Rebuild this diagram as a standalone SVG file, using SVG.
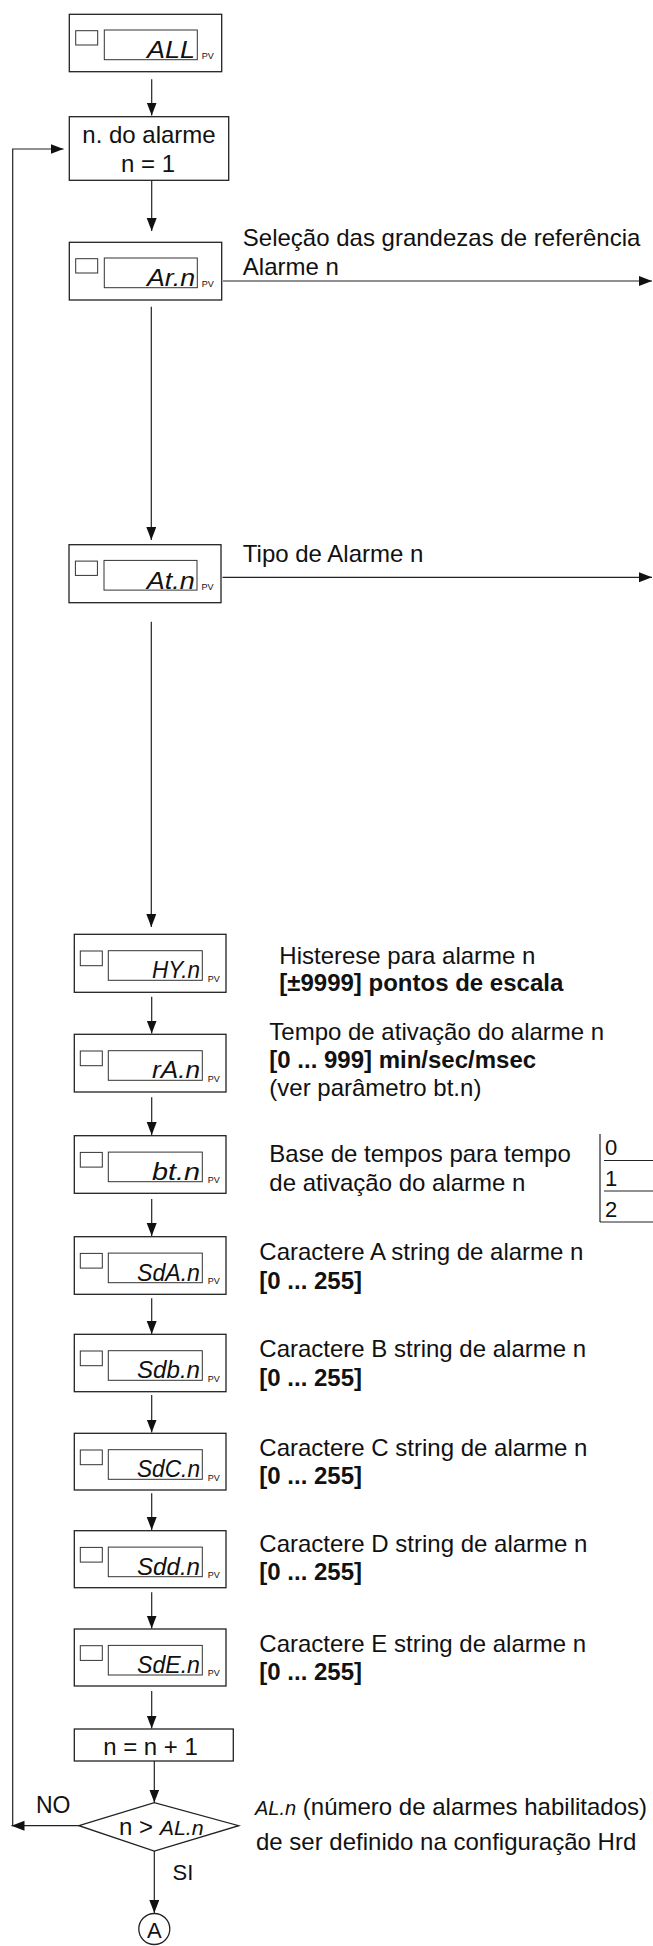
<svg xmlns="http://www.w3.org/2000/svg" width="653" height="1946" viewBox="0 0 653 1946">
<style>
.bg{fill:#fff}
.box{fill:#fff;stroke:#222;stroke-width:1.3}
.sq{fill:none;stroke:#333;stroke-width:1}
.disp{fill:none;stroke:#333;stroke-width:1}
.seg{font-family:"Liberation Sans","DejaVu Sans",sans-serif;font-style:italic;font-size:24px;text-anchor:end;fill:#111}
.seg2{font-family:"Liberation Sans","DejaVu Sans",sans-serif;font-style:italic;fill:#111}
.pv{font-family:"Liberation Sans",sans-serif;font-size:9px;fill:#111}
.t{font-family:"Liberation Sans",Arial,sans-serif;font-size:24px;fill:#111}
.c{text-anchor:middle}
.b{font-weight:bold}
.conn{stroke:#222;stroke-width:1.2;fill:none}
.tbl{stroke:#222;stroke-width:1.2;fill:none}
.dig{font-size:22px}
</style>
<defs>
<marker id="ah" markerUnits="userSpaceOnUse" markerWidth="14" markerHeight="11" refX="13" refY="5" orient="auto">
<path d="M0,0 L13,5 L0,10 z" fill="#111"/>
</marker>
</defs>
<rect class="bg" x="0" y="0" width="653" height="1946"/>

<g id="connectors">
<line class="conn" x1="151.7" y1="79.3" x2="151.7" y2="115.5" marker-end="url(#ah)"/>
<line class="conn" x1="151.7" y1="180.3" x2="151.7" y2="231" marker-end="url(#ah)"/>
<line class="conn" x1="223" y1="281" x2="652" y2="281" marker-end="url(#ah)"/>
<line class="conn" x1="151.3" y1="306.7" x2="151.3" y2="540" marker-end="url(#ah)"/>
<line class="conn" x1="222.5" y1="577.3" x2="652" y2="577.3" marker-end="url(#ah)"/>
<line class="conn" x1="151.3" y1="621.7" x2="151.3" y2="927" marker-end="url(#ah)"/>
<line class="conn" x1="151.7" y1="996.7" x2="151.7" y2="1033.5" marker-end="url(#ah)"/>
<line class="conn" x1="151.7" y1="1097.3" x2="151.7" y2="1135" marker-end="url(#ah)"/>
<line class="conn" x1="151.7" y1="1199" x2="151.7" y2="1236" marker-end="url(#ah)"/>
<line class="conn" x1="151.7" y1="1298.3" x2="151.7" y2="1334" marker-end="url(#ah)"/>
<line class="conn" x1="151.7" y1="1395" x2="151.7" y2="1432.5" marker-end="url(#ah)"/>
<line class="conn" x1="151.7" y1="1493.3" x2="151.7" y2="1530" marker-end="url(#ah)"/>
<line class="conn" x1="151.7" y1="1592.3" x2="151.7" y2="1628.5" marker-end="url(#ah)"/>
<line class="conn" x1="151.7" y1="1691" x2="151.7" y2="1728.5" marker-end="url(#ah)"/>
<line class="conn" x1="154.3" y1="1761" x2="154.3" y2="1802.5" marker-end="url(#ah)"/>
<line class="conn" x1="154.3" y1="1851" x2="154.3" y2="1913" marker-end="url(#ah)"/>
<line class="conn" x1="79" y1="1825.7" x2="11.5" y2="1825.7" marker-end="url(#ah)"/>
<polyline class="conn" points="12.7,1825.7 12.7,149 63.5,149" marker-end="url(#ah)"/>
</g>

<g id="n-all" transform="translate(69.3,14.3)">
<rect class="box" x="0" y="0" width="152.4" height="57.4"/>
<rect class="sq" x="6.4" y="16.4" width="22" height="14.3"/>
<rect class="disp" x="35" y="15.7" width="93" height="29.7"/>
<text class="seg" x="125.7" y="44" textLength="48" lengthAdjust="spacingAndGlyphs">ALL</text>
<text class="pv" x="132.4" y="45">PV</text>
</g>

<g id="n-nalarme">
<rect class="box" x="69.3" y="116.7" width="159.4" height="63.6"/>
<text class="t c" x="149" y="142.5">n. do alarme</text>
<text class="t c" x="148" y="171.7">n = 1</text>
</g>

<g id="n-arn" transform="translate(69.3,242.3)">
<rect class="box" x="0" y="0" width="152.4" height="57.7"/>
<rect class="sq" x="6.4" y="16.4" width="22" height="14.3"/>
<rect class="disp" x="35" y="15.7" width="93" height="29.7"/>
<text class="seg" x="125.7" y="44" textLength="48" lengthAdjust="spacingAndGlyphs">Ar.n</text>
<text class="pv" x="132.4" y="45">PV</text>
</g>
<g id="l-arn">
<text class="t" x="242.8" y="246">Seleção das grandezas de referência</text>
<text class="t" x="242.8" y="275">Alarme n</text>
</g>

<g id="n-atn" transform="translate(69,544.7)">
<rect class="box" x="0" y="0" width="152" height="58"/>
<rect class="sq" x="6.4" y="16.4" width="22" height="14.3"/>
<rect class="disp" x="35" y="15.7" width="93" height="29.7"/>
<text class="seg" x="125.7" y="44" textLength="48" lengthAdjust="spacingAndGlyphs">At.n</text>
<text class="pv" x="132.4" y="45.5">PV</text>
</g>
<g id="l-atn">
<text class="t" x="242.8" y="562.3">Tipo de Alarme n</text>
</g>

<g id="n-hyn" transform="translate(74.3,934.3)">
<rect class="box" x="0" y="0" width="151.7" height="58"/>
<rect class="sq" x="6" y="16.7" width="22" height="14.7"/>
<rect class="disp" x="34" y="16.4" width="94" height="29.6"/>
<text class="seg" x="125.7" y="44" textLength="48" lengthAdjust="spacingAndGlyphs">HY.n</text>
<text class="pv" x="133.4" y="47.4">PV</text>
</g>
<g id="l-hyn">
<text class="t" x="279.3" y="963.5">Histerese para alarme n</text>
<text class="t b" x="279.3" y="990.5">[±9999] pontos de escala</text>
</g>

<g id="n-ran" transform="translate(74.3,1034.3)">
<rect class="box" x="0" y="0" width="151.7" height="57.7"/>
<rect class="sq" x="6" y="16.7" width="22" height="14.7"/>
<rect class="disp" x="34" y="16.4" width="94" height="29.6"/>
<text class="seg" x="125.7" y="44" textLength="48" lengthAdjust="spacingAndGlyphs">rA.n</text>
<text class="pv" x="133.4" y="47.4">PV</text>
</g>
<g id="l-ran">
<text class="t" x="269.3" y="1040">Tempo de ativação do alarme n</text>
<text class="t b" x="269.3" y="1068">[0 ... 999] min/sec/msec</text>
<text class="t" x="269.3" y="1096">(ver parâmetro bt.n)</text>
</g>

<g id="n-btn" transform="translate(74.3,1135.7)">
<rect class="box" x="0" y="0" width="151.7" height="57.6"/>
<rect class="sq" x="6" y="16.7" width="22" height="14.7"/>
<rect class="disp" x="34" y="16.4" width="94" height="29.6"/>
<text class="seg" x="125.7" y="44" textLength="48" lengthAdjust="spacingAndGlyphs">bt.n</text>
<text class="pv" x="133.4" y="47.4">PV</text>
</g>
<g id="l-btn">
<text class="t" x="269.3" y="1161.5">Base de tempos para tempo</text>
<text class="t" x="269.3" y="1190.5">de ativação do alarme n</text>
</g>
<g id="table-btn">
<line class="tbl" x1="600" y1="1134" x2="600" y2="1222"/>
<line class="tbl" x1="604" y1="1160.5" x2="653" y2="1160.5"/>
<line class="tbl" x1="604" y1="1191" x2="653" y2="1191"/>
<line class="tbl" x1="600" y1="1222" x2="653" y2="1222"/>
<text class="t dig" x="605" y="1155">0</text>
<text class="t dig" x="605" y="1186">1</text>
<text class="t dig" x="605" y="1216.5">2</text>
</g>

<g id="n-sdan" transform="translate(74.3,1236.7)">
<rect class="box" x="0" y="0" width="151.7" height="57.6"/>
<rect class="sq" x="6" y="16.7" width="22" height="14.7"/>
<rect class="disp" x="34" y="16.4" width="94" height="29.6"/>
<text class="seg" x="125.7" y="44" textLength="63" lengthAdjust="spacingAndGlyphs">SdA.n</text>
<text class="pv" x="133.4" y="47.4">PV</text>
</g>
<g id="l-sdan">
<text class="t" x="259.3" y="1260">Caractere A string de alarme n</text>
<text class="t b" x="259.3" y="1289">[0 ... 255]</text>
</g>

<g id="n-sdbn" transform="translate(74.3,1334.3)">
<rect class="box" x="0" y="0" width="151.7" height="57.4"/>
<rect class="sq" x="6" y="16.7" width="22" height="14.7"/>
<rect class="disp" x="34" y="16.4" width="94" height="29.6"/>
<text class="seg" x="125.7" y="44" textLength="63" lengthAdjust="spacingAndGlyphs">Sdb.n</text>
<text class="pv" x="133.4" y="47.4">PV</text>
</g>
<g id="l-sdbn">
<text class="t" x="259.3" y="1357">Caractere B string de alarme n</text>
<text class="t b" x="259.3" y="1386">[0 ... 255]</text>
</g>

<g id="n-sdcn" transform="translate(74.3,1433.3)">
<rect class="box" x="0" y="0" width="151.7" height="56.7"/>
<rect class="sq" x="6" y="16.7" width="22" height="14.7"/>
<rect class="disp" x="34" y="16.4" width="94" height="29.6"/>
<text class="seg" x="125.7" y="44" textLength="63" lengthAdjust="spacingAndGlyphs">SdC.n</text>
<text class="pv" x="133.4" y="47.4">PV</text>
</g>
<g id="l-sdcn">
<text class="t" x="259.3" y="1455.5">Caractere C string de alarme n</text>
<text class="t b" x="259.3" y="1484">[0 ... 255]</text>
</g>

<g id="n-sddn" transform="translate(74.3,1530.7)">
<rect class="box" x="0" y="0" width="151.7" height="57"/>
<rect class="sq" x="6" y="16.7" width="22" height="14.7"/>
<rect class="disp" x="34" y="16.4" width="94" height="29.6"/>
<text class="seg" x="125.7" y="44" textLength="63" lengthAdjust="spacingAndGlyphs">Sdd.n</text>
<text class="pv" x="133.4" y="47.4">PV</text>
</g>
<g id="l-sddn">
<text class="t" x="259.3" y="1551.5">Caractere D string de alarme n</text>
<text class="t b" x="259.3" y="1579.5">[0 ... 255]</text>
</g>

<g id="n-sden" transform="translate(74.3,1629)">
<rect class="box" x="0" y="0" width="151.7" height="57"/>
<rect class="sq" x="6" y="16.7" width="22" height="14.7"/>
<rect class="disp" x="34" y="16.4" width="94" height="29.6"/>
<text class="seg" x="125.7" y="44" textLength="63" lengthAdjust="spacingAndGlyphs">SdE.n</text>
<text class="pv" x="133.4" y="47.4">PV</text>
</g>
<g id="l-sden">
<text class="t" x="259.3" y="1651.7">Caractere E string de alarme n</text>
<text class="t b" x="259.3" y="1680">[0 ... 255]</text>
</g>

<g id="n-inc">
<rect class="box" x="74.3" y="1729" width="159" height="32"/>
<text class="t c" x="150.5" y="1755">n = n + 1</text>
</g>

<g id="n-dec">
<polygon class="box" points="79,1825.7 154.3,1802.7 238.7,1825.7 154.3,1851"/>
<text class="t" x="119" y="1835">n &gt; <tspan class="seg2" style="font-size:21px" textLength="44" lengthAdjust="spacingAndGlyphs">AL.n</tspan></text>
</g>
<text class="t" x="36" y="1813.3" style="font-size:23px">NO</text>
<text class="t" x="172.5" y="1880" style="font-size:22px">SI</text>

<g id="l-dec">
<text class="t" x="255" y="1815"><tspan class="seg2" style="font-size:20px">AL.n</tspan> (número de alarmes habilitados)</text>
<text class="t" x="256" y="1850">de ser definido na configuração Hrd</text>
</g>

<g id="n-a">
<circle class="box" cx="154.3" cy="1929" r="15.5"/>
<text class="t c" x="154.3" y="1937.5" style="font-size:22px">A</text>
</g>
</svg>
